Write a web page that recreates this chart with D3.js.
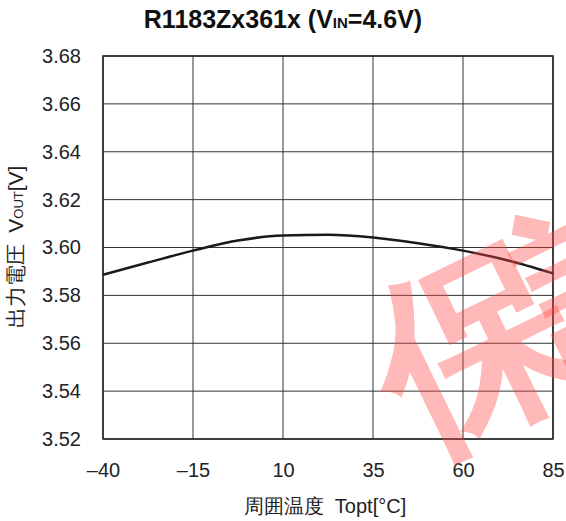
<!DOCTYPE html>
<html>
<head>
<meta charset="utf-8">
<script src="https://cdn.jsdelivr.net/npm/d3@7"></script>
<style>
  body { margin: 0; background: #fff; }
  text { font-family: "Liberation Sans", Arial, sans-serif; fill: #222; }
</style>
</head>
<body>
<svg id="chart" width="566" height="521"></svg>
<script>
const temps = [-40, -27.5, -15, -2.5, 10, 22.5, 35, 47.5, 60, 72.5, 85];
const vout = [3.5886, 3.5937, 3.5987, 3.6029, 3.6050, 3.6053, 3.6042, 3.6018, 3.5987, 3.5946, 3.5892];
const xTicks = [-40, -15, 10, 35, 60, 85];
const yTicks = [3.52, 3.54, 3.56, 3.58, 3.60, 3.62, 3.64, 3.66, 3.68];

const svg = d3.select("#chart");
const plotL = 103, plotR = 553, plotT = 56, plotB = 439;

const x = d3.scaleLinear().domain([-40, 85]).range([plotL, plotR]);
const y = d3.scaleLinear().domain([3.52, 3.68]).range([plotB, plotT]);

// grid
svg.append("g").selectAll("line").data(xTicks).enter().append("line")
  .attr("x1", d => x(d)).attr("x2", d => x(d))
  .attr("y1", plotT).attr("y2", plotB)
  .attr("stroke", "#333").attr("stroke-width", 1);
svg.append("g").selectAll("line").data(yTicks).enter().append("line")
  .attr("x1", plotL).attr("x2", plotR)
  .attr("y1", d => y(d)).attr("y2", d => y(d))
  .attr("stroke", "#333").attr("stroke-width", 1);
svg.append("rect").attr("x", plotL).attr("y", plotT)
  .attr("width", plotR - plotL).attr("height", plotB - plotT)
  .attr("fill", "none").attr("stroke", "#222").attr("stroke-width", 1.5);

// axes labels
const xAxis = d3.axisBottom(x).tickValues(xTicks).tickSize(0).tickPadding(24)
  .tickFormat(d => d < 0 ? "\u2013" + Math.abs(d) : d);
const gx = svg.append("g").attr("transform", `translate(0,${plotB})`).call(xAxis);
gx.select(".domain").remove();
gx.selectAll("text").attr("font-size", 20).attr("fill", "#222")
  .attr("font-family", "Liberation Sans, Arial, sans-serif");

const yAxis = d3.axisLeft(y).tickValues(yTicks).tickSize(0).tickPadding(22)
  .tickFormat(d3.format(".2f"));
const gy = svg.append("g").attr("transform", `translate(${plotL},0)`).call(yAxis);
gy.select(".domain").remove();
gy.selectAll("text").attr("font-size", 20).attr("fill", "#222")
  .attr("font-family", "Liberation Sans, Arial, sans-serif");

// curve
const line = d3.line().x((d, i) => x(temps[i])).y(d => y(d)).curve(d3.curveMonotoneX);
svg.append("path").datum(vout).attr("d", line)
  .attr("fill", "none").attr("stroke", "#1a1a1a").attr("stroke-width", 2.5);

// watermark
svg.append("text").attr("transform", "translate(393,405) rotate(-26)")
  .attr("dominant-baseline", "middle").attr("letter-spacing", -30)
  .attr("font-size", 200).attr("font-weight", "bold").attr("font-family", "Noto Sans CJK JP")
  .style("fill", "rgba(255,70,70,0.38)").text("保証");

// title
const title = svg.append("text").attr("x", 283).attr("y", 28)
  .attr("text-anchor", "middle").attr("font-size", 25).attr("font-weight", "bold").style("fill", "#111");
title.append("tspan").text("R1183Zx361x (V");
title.append("tspan").attr("font-size", 15).text("IN");
title.append("tspan").text("=4.6V)");

// axis titles
svg.append("text").attr("x", 325).attr("y", 513).attr("text-anchor", "middle")
  .attr("font-size", 20).text("周囲温度  Topt[°C]").style("white-space", "pre");
const yl = svg.append("text").attr("transform", "translate(23,247) rotate(-90)")
  .attr("text-anchor", "middle").attr("font-size", 21).style("white-space", "pre");
yl.append("tspan").text("出力電圧  V");
yl.append("tspan").attr("font-size", 13).text("OUT");
yl.append("tspan").text("[V]");
</script>
</body>
</html>
